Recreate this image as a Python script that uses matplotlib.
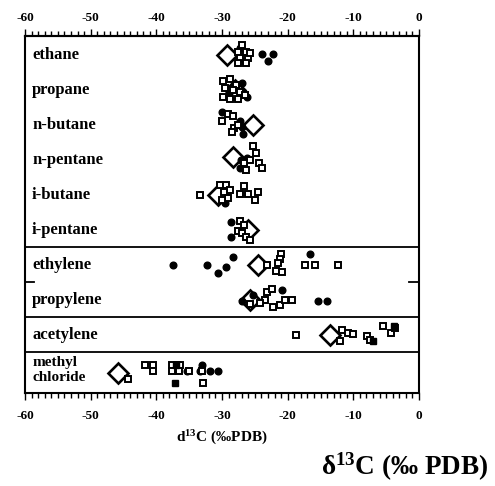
import matplotlib
matplotlib.use("Agg")
import matplotlib.pyplot as plt
from matplotlib.ticker import MultipleLocator

plt.rcParams['font.family'] = ['Liberation Serif', 'DejaVu Serif']
plt.rcParams['font.weight'] = 'bold'
plt.rcParams['mathtext.fontset'] = 'custom'
plt.rcParams['mathtext.rm'] = 'Liberation Serif:bold'
plt.rcParams['mathtext.bf'] = 'Liberation Serif:bold'
plt.rcParams['mathtext.it'] = 'Liberation Serif:bold:italic'

# ---------------- data (delta 13C, per mil PDB) ----------------
categories = ["ethane", "propane", "n-butane", "n-pentane", "i-butane",
              "i-pentane", "ethylene", "propylene", "acetylene", "methyl\nchloride"]

# mean value of each compound (open diamond)
mean_values = [-29.3, -28.0, -25.3, -28.3, -30.6, -26.0, -24.5, -25.7, -13.6, -45.8]

# individual measurements, filled circles
circle_values = [
    [-27.3, -26.5, -23.9, -23.0, -22.2],
    [-29.0, -28.0, -27.0, -26.2],
    [-30.0, -27.3, -27.0, -26.8],
    [-27.1, -26.2, -27.2],
    [-29.5],
    [-28.6, -28.6],
    [-37.5, -32.3, -30.6, -29.4, -28.3, -16.6],
    [-27.0, -25.3, -20.9, -15.4, -14.0],
    [],
    [-35.4, -33.0, -33.3, -31.8, -30.6],
]

# individual measurements, open squares
square_values = [
    [-27.0, -27.6, -26.3, -27.3, -26.0, -27.6, -26.3, -25.7],
    [-29.8, -28.8, -27.8, -29.5, -28.3, -27.2, -29.8, -28.8, -27.5, -26.5],
    [-29.1, -28.3, -30.0, -28.2, -28.5, -27.6],
    [-25.3, -24.8, -25.7, -24.4, -26.6, -23.9, -26.3],
    [-33.4, -30.3, -29.4, -29.7, -28.8, -29.1, -30.0, -26.7, -27.3, -26.0, -24.5, -25.0],
    [-27.3, -26.7, -27.6, -27.0, -26.3, -25.7],
    [-23.1, -21.0, -21.2, -21.4, -21.8, -20.9, -17.4, -15.8, -12.3],
    [-25.7, -23.1, -22.4, -23.4, -22.3, -21.2, -20.4, -19.4, -24.2],
    [-18.7, -12.1, -11.8, -10.8, -10.0, -7.9, -7.5, -5.5, -4.3, -3.6],
    [-44.3, -41.7, -40.5, -40.5, -37.6, -36.9, -36.4, -37.6, -36.6, -35.0, -33.0, -32.9],
]

# individual measurements, filled squares
filled_square_values = [
    [], [], [], [], [], [], [], [],
    [-7.0, -3.8],
    [-37.1, -37.0],
]

# ---------------- layout: vertical scatter of points inside each row ----------------
circle_dy = [
    [-0.2, 0.17, -0.03, 0.17, -0.03],
    [0.1, -0.1, -0.2, 0.2],
    [-0.37, -0.1, 0.05, 0.25],
    [0.0, -0.06, 0.22],
    [0.23],
    [-0.23, 0.2],
    [0.0, 0.0, 0.23, 0.06, -0.23, -0.3],
    [0.03, -0.14, -0.29, 0.03, 0.03],
    [],
    [0.03, -0.14, 0.03, 0.03, 0.03],
]
square_dy = [
    [-0.3, -0.1, -0.1, 0.08, 0.08, 0.22, 0.22, -0.05],
    [-0.25, -0.3, -0.15, -0.05, 0.0, 0.05, 0.2, 0.25, 0.25, 0.15],
    [-0.3, -0.25, -0.1, 0.1, 0.2, 0.0],
    [-0.4, -0.2, 0.0, 0.08, 0.08, 0.22, 0.28],
    [0.0, -0.28, -0.28, -0.08, -0.15, 0.08, 0.15, -0.25, -0.03, -0.03, -0.08, 0.15],
    [-0.25, -0.15, 0.03, 0.08, 0.2, 0.28],
    [0.0, -0.3, -0.17, -0.05, 0.17, 0.2, 0.0, 0.0, 0.0],
    [0.12, -0.23, -0.31, 0.0, 0.2, 0.14, 0.0, 0.0, 0.1],
    [0.0, 0.17, -0.14, -0.06, -0.03, 0.03, 0.14, -0.26, -0.06, -0.2],
    [0.26, -0.14, -0.14, 0.03, -0.14, -0.14, -0.14, 0.03, 0.03, 0.03, 0.03, 0.37],
]
filled_square_dy = [[], [], [], [], [], [], [], [], [0.17, -0.26], [0.37, -0.14]]
mean_dy = [0, 0, 0, -0.08, 0, 0, 0, 0, 0, 0.1]

x_ticks = [-60, -50, -40, -30, -20, -10, 0]

# ---------------- figure ----------------
fig = plt.figure(figsize=(4.95, 4.86), dpi=100)
ax = fig.add_axes([25 / 495, 1 - 393 / 486, 394 / 495, 357 / 486])

rows = list(range(1, len(categories) + 1))
for i, r in enumerate(rows):
    ax.plot(mean_values[i], r + mean_dy[i], marker='D', ms=10, mfc='white',
            mec='black', mew=1.9, ls='none', zorder=3)
    if circle_values[i]:
        ax.plot(circle_values[i], [r + d for d in circle_dy[i]], marker='o', ms=4.8,
                mfc='black', mec='black', ls='none', zorder=4)
    if square_values[i]:
        ax.plot(square_values[i], [r + d for d in square_dy[i]], marker='s', ms=4.8,
                mfc='white', mec='black', mew=1.4, ls='none', zorder=5)
    if filled_square_values[i]:
        ax.plot(filled_square_values[i], [r + d for d in filled_square_dy[i]], marker='s',
                ms=4.8, mfc='black', mec='black', ls='none', zorder=5)
    fs = 11 if '\n' in categories[i] else 12
    ax.text(0.018, r, categories[i], transform=ax.get_yaxis_transform(),
            ha='left', va='center', fontsize=fs, fontweight='bold', linespacing=1.15)

ax.set_xlim(-60, 0)
ax.set_ylim(10.66, 0.457)
ax.set_yticks([])

# group separators
for yv in [6.5, 8.5, 9.5]:
    ax.axhline(yv, color='black', lw=1.3, zorder=2)
ax.plot([-60, -58.6], [7.5, 7.5], color='black', lw=1.3, zorder=2)
ax.plot([-1.5, 0], [7.5, 7.5], color='black', lw=1.3, zorder=2)

# bottom axis
ax.set_xticks(x_ticks)
ax.xaxis.set_minor_locator(MultipleLocator(1))
ax.set_xticklabels([str(t) for t in x_ticks])
ax.tick_params(axis='x', which='both', direction='out', top=False, bottom=True,
               labeltop=False, labelbottom=True, width=1.0)
ax.tick_params(axis='x', which='major', length=5, pad=7, labelsize=9.5)
ax.tick_params(axis='x', which='minor', length=3.5)
for lab in ax.get_xticklabels():
    lab.set_fontweight('bold')

# top axis
top = ax.secondary_xaxis('top')
top.set_xticks(x_ticks)
top.xaxis.set_minor_locator(MultipleLocator(1))
top.set_xticklabels([str(t) for t in x_ticks])
top.tick_params(axis='x', which='both', direction='out', width=1.0)
top.tick_params(axis='x', which='major', length=5, pad=3.5, labelsize=9.5)
top.tick_params(axis='x', which='minor', length=3.5)
top.spines['top'].set_linewidth(1.5)
for lab in top.get_xticklabels():
    lab.set_fontweight('bold')

for s in ax.spines.values():
    s.set_linewidth(1.5)

fig.text(222 / 495, 1 - 438 / 486, r'd$^{13}$C (‰PDB)', ha='center', va='center',
         fontsize=11, fontweight='bold')
fig.text(488 / 495, 1 - 467 / 486, r'δ$^{13}$C (‰ PDB)', ha='right', va='center',
         fontsize=19.5, fontweight='bold')

fig.savefig('out.png', dpi=100)
